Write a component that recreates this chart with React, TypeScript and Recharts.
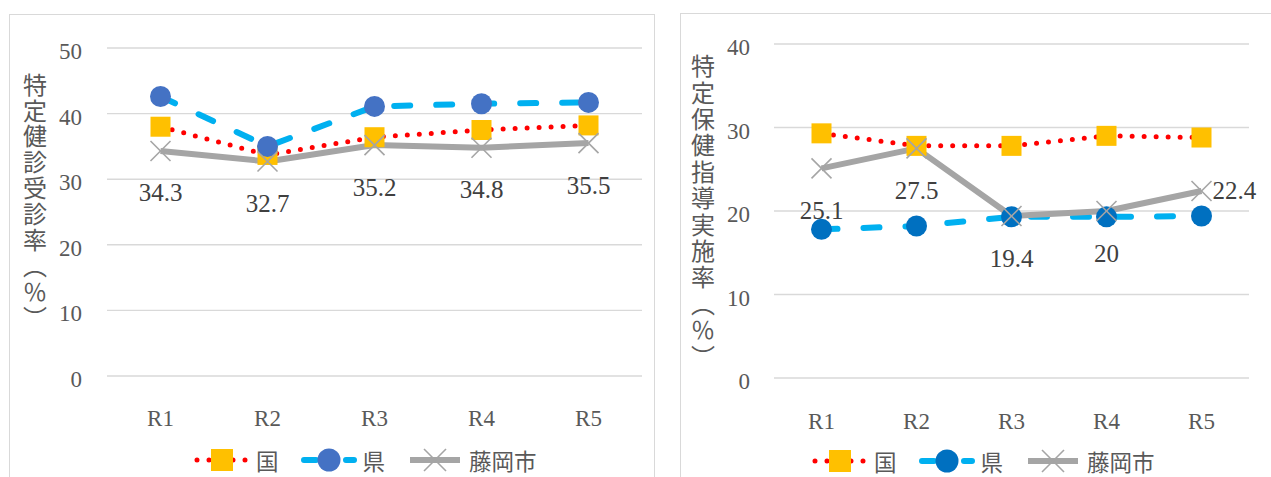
import React from 'react';
import { LineChart, Line, XAxis, YAxis, CartesianGrid, LabelList, Legend } from 'recharts';

// 年度
const years = ['R1', 'R2', 'R3', 'R4', 'R5'];

// 特定健診受診率（%）
const checkupNational = [38.0, 33.7, 36.4, 37.5, 38.2];
const checkupPrefecture = [42.6, 35.0, 41.1, 41.5, 41.7];
const checkupCity = [34.3, 32.7, 35.2, 34.8, 35.5];
const checkupTicks = [0, 10, 20, 30, 40, 50];

// 特定保健指導実施率（%）
const guidanceNational = [29.3, 27.8, 27.8, 29.0, 28.8];
const guidancePrefecture = [17.8, 18.2, 19.3, 19.3, 19.4];
const guidanceCity = [25.1, 27.5, 19.4, 20, 22.4];
const guidanceTicks = [0, 10, 20, 30, 40];

const seriesNames = ['国', '県', '藤岡市'];

const NUM_FONT = '"Liberation Serif", "DejaVu Serif", serif';
const CJK_FONT = '"Noto Sans CJK JP", "Noto Sans", sans-serif';
const AXIS_TEXT = '#595959';
const LABEL_TEXT = '#404040';
const GRID = '#D9D9D9';

type MarkerKind = 'square' | 'circle' | 'cross';

function Marker({ kind, cx, cy, color, size = 1 }: { kind: MarkerKind; cx: number; cy: number; color: string; size?: number }) {
  const h = 10 * size;
  if (kind === 'square') {
    return <rect x={cx - h} y={cy - h} width={2 * h} height={2 * h} fill={color} />;
  }
  if (kind === 'circle') {
    return <circle cx={cx} cy={cy} r={h + 0.5} fill={color} />;
  }
  return (
    <g stroke={color} strokeWidth={1.6}>
      <line x1={cx - h} y1={cy - h} x2={cx + h} y2={cy + h} />
      <line x1={cx - h} y1={cy + h} x2={cx + h} y2={cy - h} />
    </g>
  );
}

type SeriesStyle = {
  key: string;
  name: string;
  stroke: string;
  strokeWidth: number;
  dash?: string;
  cap: 'round' | 'butt';
  marker: MarkerKind;
  markerColor: string;
};

const makeSeries = (prefMarker: string): SeriesStyle[] => [
  { key: 'national', name: seriesNames[0], stroke: '#FF0000', strokeWidth: 5, dash: '0 12', cap: 'round', marker: 'square', markerColor: '#FFC000' },
  { key: 'prefecture', name: seriesNames[1], stroke: '#00B0F0', strokeWidth: 6, dash: '16 26', cap: 'round', marker: 'circle', markerColor: prefMarker },
  { key: 'city', name: seriesNames[2], stroke: '#A5A5A5', strokeWidth: 6, cap: 'butt', marker: 'cross', markerColor: '#A5A5A5' },
];

type TitleSpec = {
  text: string;
  x: number;
  top: number;
  spacing: number;
};

// 縦書きの軸タイトル
function VerticalTitle({ spec }: { spec: TitleSpec }) {
  return (
    <text
      x={spec.x}
      y={spec.top}
      fontFamily={CJK_FONT}
      fontSize={24}
      fill={AXIS_TEXT}
      letterSpacing={spec.spacing}
      style={{ writingMode: 'vertical-rl' as any }}
    >
      {spec.text}
    </text>
  );
}

type ChartSpec = {
  national: number[];
  prefecture: number[];
  city: number[];
  ticks: number[];
  left: number;
  width: number;
  height: number;
  margin: { top: number; right: number; bottom: number; left: number };
  yAxisWidth: number;
  xPad: number;
  yTickGap: number;
  xLabelGap: number;
  prefMarker: string;
  title: TitleSpec;
  labelPlacement: ('below' | 'right')[];
  legendLeft: number;
  legendTop: number;
};

function RateChart({ spec }: { spec: ChartSpec }) {
  const data = years.map((year, i) => ({
    year,
    national: spec.national[i],
    prefecture: spec.prefecture[i],
    city: spec.city[i],
  }));
  const series = makeSeries(spec.prefMarker);
  const max = spec.ticks[spec.ticks.length - 1];

  const renderYTick = (p: any) => (
    <text x={p.x} y={p.y + 3.5} textAnchor="end" dominantBaseline="central" fontFamily={NUM_FONT} fontSize={23} fill={AXIS_TEXT}>
      {p.payload.value}
    </text>
  );
  const renderXTick = (p: any) => (
    <text x={p.x} y={p.y + spec.xLabelGap} textAnchor="middle" dominantBaseline="central" fontFamily={NUM_FONT} fontSize={23} fill={AXIS_TEXT}>
      {p.payload.value}
    </text>
  );
  const renderCityLabel = (p: any) => {
    const x = Number(p.x);
    const y = Number(p.y);
    const place = spec.labelPlacement[p.index] || 'below';
    if (place === 'right') {
      return (
        <text key={p.index} x={x + 11} y={y} textAnchor="start" dominantBaseline="central" fontFamily={NUM_FONT} fontSize={25} fill={LABEL_TEXT}>
          {p.value}
        </text>
      );
    }
    return (
      <text key={p.index} x={x} y={y + 42} textAnchor="middle" dominantBaseline="central" fontFamily={NUM_FONT} fontSize={25} fill={LABEL_TEXT}>
        {p.value}
      </text>
    );
  };
  const renderLegend = () => (
    <div style={{ display: 'flex', alignItems: 'center', height: 24, fontFamily: CJK_FONT, fontSize: 22.5, color: AXIS_TEXT, whiteSpace: 'nowrap' }}>
      {series.map((s, i) => (
        <div key={s.key} style={{ display: 'flex', alignItems: 'center', marginLeft: i ? 22 : 0 }}>
          <svg width={56} height={24} style={{ display: 'block' }}>
            <line
              x1={3}
              y1={12}
              x2={53}
              y2={12}
              stroke={s.stroke}
              strokeWidth={s.strokeWidth}
              strokeDasharray={s.key === 'prefecture' ? '12 30' : s.dash}
              strokeLinecap={s.cap}
            />
            <Marker kind={s.marker} cx={28} cy={12} color={s.markerColor} size={1.1} />
          </svg>
          <span style={{ marginLeft: 6, lineHeight: '24px' }}>{s.name}</span>
        </div>
      ))}
    </div>
  );

  return (
    <div style={{ position: 'absolute', left: spec.left, top: 0 }}>
      <LineChart width={spec.width} height={spec.height} data={data} margin={spec.margin}>
        <CartesianGrid vertical={false} stroke={GRID} strokeWidth={1.4} />
        <XAxis
          dataKey="year"
          axisLine={false}
          tickLine={false}
          tickSize={0}
          tickMargin={0}
          height={30}
          padding={{ left: spec.xPad, right: spec.xPad }}
          tick={renderXTick}
          interval={0}
        />
        <YAxis
          type="number"
          domain={[0, max]}
          ticks={spec.ticks}
          axisLine={false}
          tickLine={false}
          tickSize={0}
          tickMargin={spec.yTickGap}
          width={spec.yAxisWidth}
          tick={renderYTick}
          label={{ content: () => <VerticalTitle spec={spec.title} /> }}
        />
        <Legend
          layout="horizontal"
          verticalAlign="middle"
          align="center"
          content={renderLegend}
          wrapperStyle={{ left: spec.legendLeft, top: spec.legendTop, width: 380, height: 24, overflow: 'visible' }}
        />
        {series.map((s) => (
          <Line
            key={s.key}
            type="linear"
            dataKey={s.key}
            name={s.name}
            stroke={s.stroke}
            strokeWidth={s.strokeWidth}
            strokeDasharray={s.dash}
            strokeLinecap={s.cap}
            strokeLinejoin="round"
            isAnimationActive={false}
            activeDot={false}
            dot={(p: any) => {
              if (p.cx == null || p.cy == null) return <g key={p.index} />;
              return (
                <g key={p.index}>
                  <Marker kind={s.marker} cx={p.cx} cy={p.cy} color={s.markerColor} />
                </g>
              );
            }}
          >
            {s.key === 'city' ? <LabelList dataKey="city" content={renderCityLabel} /> : null}
          </Line>
        ))}
      </LineChart>
    </div>
  );
}

const checkupSpec: ChartSpec = {
  national: checkupNational,
  prefecture: checkupPrefecture,
  city: checkupCity,
  ticks: checkupTicks,
  left: 0,
  width: 660,
  height: 477,
  margin: { top: 48, right: 18, bottom: 71, left: 0 },
  yAxisWidth: 107,
  xPad: 53.5,
  yTickGap: 25,
  xLabelGap: 42,
  prefMarker: '#4472C4',
  title: { text: '特定健診受診率（％）', x: 35, top: 72.5, spacing: 1.9 },
  labelPlacement: ['below', 'below', 'below', 'below', 'below'],
  legendLeft: 194,
  legendTop: 448,
};

const guidanceSpec: ChartSpec = {
  national: guidanceNational,
  prefecture: guidancePrefecture,
  city: guidanceCity,
  ticks: guidanceTicks,
  left: 670,
  width: 601,
  height: 477,
  margin: { top: 44, right: 22, bottom: 69, left: 0 },
  yAxisWidth: 104,
  xPad: 47.5,
  yTickGap: 24,
  xLabelGap: 43,
  prefMarker: '#0070C0',
  title: { text: '特定保健指導実施率（％）', x: 33, top: 54, spacing: 2.4 },
  labelPlacement: ['below', 'below', 'below', 'below', 'right'],
  legendLeft: 142,
  legendTop: 449,
};

export default function App() {
  return (
    <div style={{ position: 'absolute', left: 0, top: 0, width: 1271, height: 477, overflow: 'hidden', background: '#FFFFFF' }}>
      <div style={{ position: 'absolute', left: 9, top: 14, width: 646, height: 500, border: `1px solid ${GRID}`, boxSizing: 'border-box' }} />
      <div style={{ position: 'absolute', left: 680, top: 13, width: 700, height: 500, border: `1px solid ${GRID}`, boxSizing: 'border-box' }} />
      <RateChart spec={checkupSpec} />
      <RateChart spec={guidanceSpec} />
    </div>
  );
}
